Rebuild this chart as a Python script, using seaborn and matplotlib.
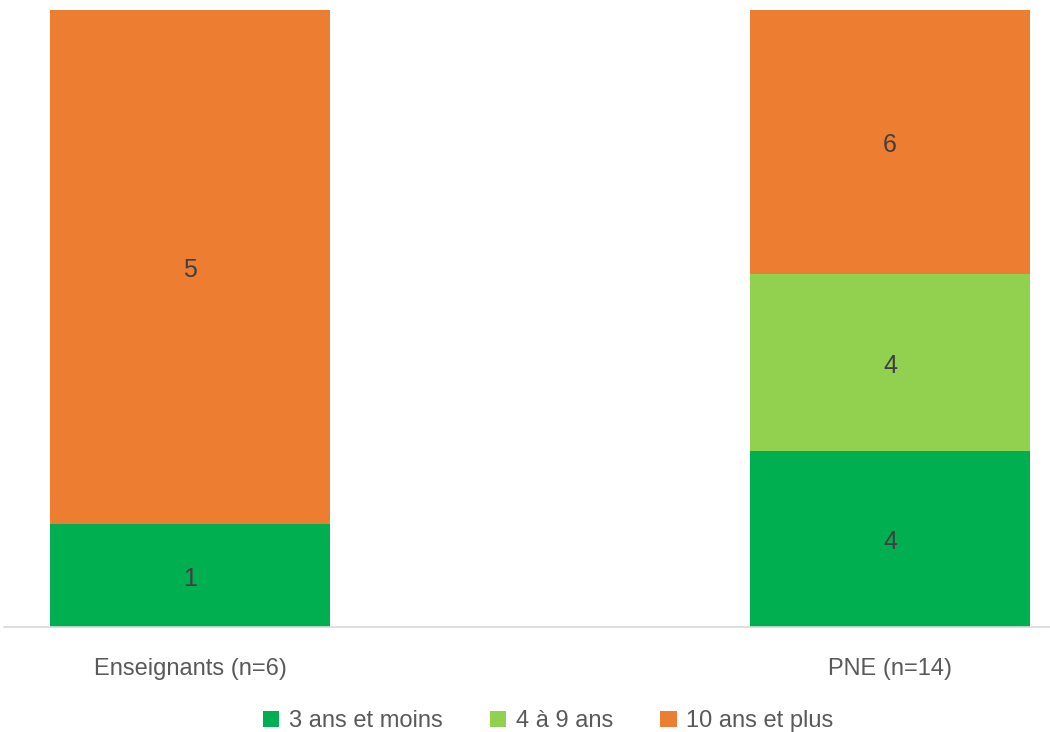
import numpy as np
import pandas as pd
import matplotlib
matplotlib.use("Agg")
import matplotlib.pyplot as plt
import seaborn as sns

# données
categories = ["Enseignants (n=6)", "PNE (n=14)"]
series_names = ["3 ans et moins", "4 à 9 ans", "10 ans et plus"]
moins_3 = [1, 4]
de_4_a_9 = [0, 4]
plus_10 = [5, 6]
colors = ["#00B050", "#92D050", "#ED7D31"]

sns.set_theme(style="white")
plt.rcParams['font.family'] = ['Liberation Sans Narrow', 'Liberation Sans', 'DejaVu Sans']

counts = np.array([moins_3, de_4_a_9, plus_10], dtype=float)
totals = counts.sum(axis=0)
shares = counts / totals
cum = np.cumsum(shares, axis=0)

fig = plt.figure(figsize=(10.5, 7.32), dpi=100)
ax = fig.add_axes([4 / 1050, 0.1434, 1 - 4 / 1050, 0.8429])

# empilement : on dessine les cumuls du haut vers le bas
for i in reversed(range(len(series_names))):
    df = pd.DataFrame({"cat": categories, "val": cum[i]})
    sns.barplot(data=df, x="cat", y="val", color=colors[i], width=0.4,
                saturation=1, ax=ax, label=series_names[i],
                edgecolor="none", linewidth=0)

# étiquettes de valeur
for j in range(len(categories)):
    for i in range(len(series_names)):
        if counts[i, j] == 0:
            continue
        mid = cum[i, j] - shares[i, j] / 2
        ax.text(j, mid - 0.005, f"{int(counts[i, j])}", ha="center", va="center",
                fontsize=18, color="#404040")

ax.set_xlim(-0.2657, 1.2286)
ax.set_ylim(0, 1)
ax.set_xlabel("")
ax.set_ylabel("")
ax.set_yticks([])
for s in ["top", "right", "left"]:
    ax.spines[s].set_visible(False)
ax.spines["bottom"].set_color("#D9D9D9")
ax.spines["bottom"].set_linewidth(1.2)
ax.tick_params(axis="x", length=0, pad=22, labelsize=17, labelcolor="#595959")

handles, labels = ax.get_legend_handles_labels()
order = [labels.index(n) for n in series_names]
leg = ax.legend([handles[k] for k in order], [labels[k] for k in order],
                loc="lower center", bbox_to_anchor=(0.52, -0.205), ncol=3,
                frameon=False, fontsize=17, handlelength=0.7, handleheight=0.7,
                handletextpad=0.4, columnspacing=2.0)
for t in leg.get_texts():
    t.set_color("#595959")

fig.savefig("out.png", dpi=100)
